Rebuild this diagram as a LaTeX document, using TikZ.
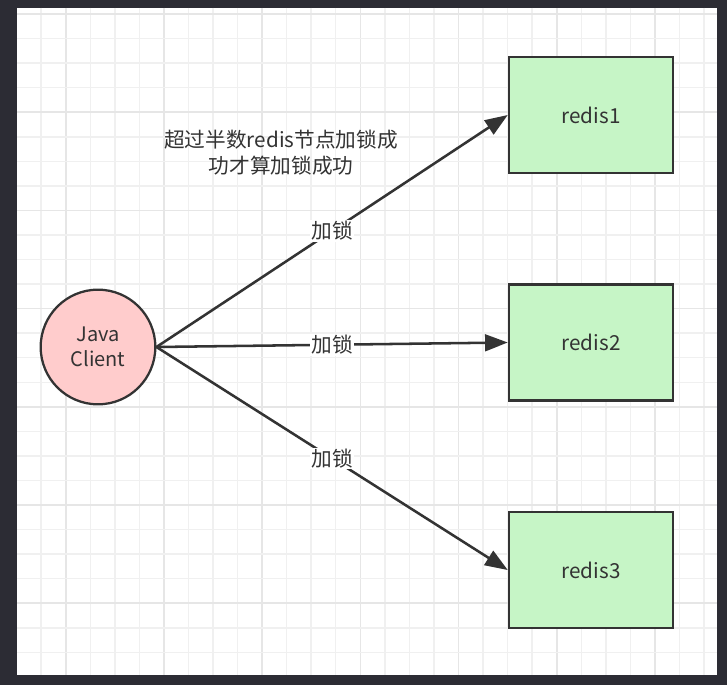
\documentclass[tikz,border=0pt]{standalone}
\usepackage{fontspec}
\setmainfont{Noto Sans CJK SC}
\usetikzlibrary{arrows.meta}
\definecolor{frame}{HTML}{2C2C34}
\definecolor{gridminor}{HTML}{F0F0F0}
\definecolor{gridmajor}{HTML}{E6E6E6}
\definecolor{ink}{HTML}{333333}
\definecolor{boxfill}{HTML}{C6F5C6}
\definecolor{clientfill}{HTML}{FFCCCC}
\tikzset{
  redisbox/.style={draw=ink, line width=1.9pt, fill=boxfill, minimum width=123pt, minimum height=87pt, inner sep=0pt, text=ink, font=\fontsize{15.5}{19}\selectfont},
  clientnode/.style={circle, draw=ink, line width=1.7pt, fill=clientfill, minimum size=86pt, inner sep=0pt, text=ink, align=center, font=\fontsize{15}{19}\selectfont},
  conn/.style={draw=ink, line width=1.9pt, -{Triangle[length=17pt,width=12.5pt]}},
  lbl/.style={fill=white, inner sep=1pt, text=ink, font=\fontsize{15.5}{19}\selectfont},
  note/.style={text=ink, align=center, font=\fontsize{15.5}{19.5}\selectfont}
}
\begin{document}
\begin{tikzpicture}[x=0.75pt, y=-0.75pt]
\useasboundingbox (0,0) rectangle (727,685);
\fill[frame] (0,0) rectangle (727,685);
\fill[white] (17,8) rectangle (717,675);
\begin{scope}
\clip (17,8) rectangle (717,675);
\foreach \i in {0,...,28} {
  \pgfmathtruncatemacro{\m}{mod(\i,4)}
  \ifnum\m=2
    \draw[gridmajor, line width=1.2pt] ({16.6+24.55*\i},8) -- ({16.6+24.55*\i},675);
  \else
    \draw[gridminor, line width=1.1pt] ({16.6+24.55*\i},8) -- ({16.6+24.55*\i},675);
  \fi
}
\foreach \j in {1,...,27} {
  \pgfmathtruncatemacro{\m}{mod(\j,4)}
  \ifnum\m=1
    \draw[gridmajor, line width=1.2pt] (17,{-10.5+24.55*\j}) -- (717,{-10.5+24.55*\j});
  \else
    \draw[gridminor, line width=1.1pt] (17,{-10.5+24.55*\j}) -- (717,{-10.5+24.55*\j});
  \fi
}
\end{scope}

\node[clientnode] (client) at (98,347) {Java\\Client};
\node[redisbox] (r1) at (591,115) {redis1};
\node[redisbox] (r2) at (591,342.5) {redis2};
\node[redisbox] (r3) at (591,570) {redis3};

\draw[conn] (client.east) -- node[lbl] {加锁} (r1.west);
\draw[conn] (client.east) -- node[lbl] {加锁} (r2.west);
\draw[conn] (client.east) -- node[lbl] {加锁} (r3.west);

\node[note] (note) at (281,153) {超过半数redis节点加锁成\\功才算加锁成功};
\end{tikzpicture}
\end{document}
